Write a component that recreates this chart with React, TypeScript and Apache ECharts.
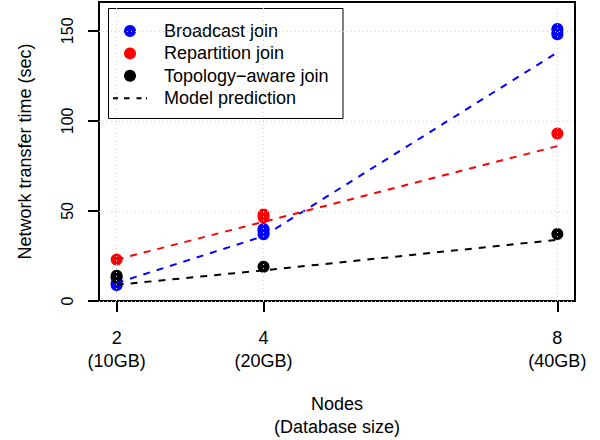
import React, { useEffect, useRef } from "react";
import * as echarts from "echarts";

const nodes = [2, 4, 8];
const dbSizes = ["10GB", "20GB", "40GB"];
const yTicks = [0, 50, 100, 150];

const broadcastObs = [[2, 8.8], [2, 9.8], [4, 37], [4, 39], [4, 40], [8, 148], [8, 149.5], [8, 151]];
const repartitionObs = [[2, 23], [4, 46.5], [4, 48], [8, 93]];
const topologyObs = [[2, 13], [2, 14], [4, 19], [8, 37.2]];

const broadcastModel = [10, 36, 138];
const repartitionModel = [23, 44, 86];
const topologyModel = [9, 17, 34];

const FONT = "Liberation Sans";
const YTICK_FS = 16;
const XTICK_FS = 18;
const TITLE_FS = 18;
const DASH = [7, 7];
const LEGEND_DASH_ICON = "path://M0 0h5v2h-5zM11 0h5.5v2h-5.5zM23.5 0h5v2h-5zM33 0h1v2h-1z";
const X_MIN = 1.76;
const X_MAX = 8.24;

export default function App() {
  const ref = useRef<HTMLDivElement>(null);
  useEffect(() => {
    const chart = echarts.init(ref.current!, null, { renderer: "svg" });
    const modelSeries = (name: string, color: string, vals: number[]) => ({
      name,
      type: "line",
      data: nodes.map((n, i) => [n, vals[i]]),
      symbol: "none",
      lineStyle: { color, width: 2, type: DASH },
      itemStyle: { color },
      z: 3,
    });
    const scatter = (name: string, color: string, data: number[][]) => ({
      name,
      type: "scatter",
      data,
      symbol: "circle",
      symbolSize: 12,
      itemStyle: { color, opacity: 1 },
      z: 2,
    });
    const xLabelStyle = {
      fontSize: XTICK_FS,
      fontFamily: FONT,
      color: "#000",
      verticalAlign: "middle",
    };
    chart.setOption({
      animation: false,
      grid: {
        left: 99,
        right: 25,
        top: 2,
        bottom: 139,
        containLabel: false,
        outerBoundsMode: "none",
        show: true,
        borderColor: "#000",
        borderWidth: 2,
        backgroundColor: "transparent",
      },
      xAxis: [
        {
          type: "value",
          min: X_MIN,
          max: X_MAX,
          position: "bottom",
          axisLine: { show: false },
          splitLine: { show: false },
          axisTick: {
            customValues: nodes,
            length: 11,
            lineStyle: { color: "#000", width: 2 },
          },
          axisLabel: {
            ...xLabelStyle,
            customValues: nodes,
            margin: 36.5,
          },
          name: "Nodes\n(Database size)",
          nameLocation: "middle",
          nameGap: 91,
          nameTextStyle: { fontSize: TITLE_FS, lineHeight: 23, fontFamily: FONT, color: "#000" },
        },
        {
          type: "value",
          min: X_MIN,
          max: X_MAX,
          position: "bottom",
          axisLine: { show: false },
          splitLine: { show: false },
          axisTick: { show: false },
          axisLabel: {
            ...xLabelStyle,
            customValues: nodes,
            formatter: (v: number) => `(${dbSizes[nodes.indexOf(v)]})`,
            margin: 59.5,
          },
        },
      ],
      yAxis: {
        type: "value",
        min: 0,
        max: 166,
        axisLine: { show: false },
        splitLine: { show: false },
        axisTick: {
          customValues: yTicks,
          length: 11,
          lineStyle: { color: "#000", width: 2 },
        },
        axisLabel: {
          customValues: yTicks,
          rotate: 90,
          align: "center",
          verticalAlign: "middle",
          fontSize: YTICK_FS,
          fontFamily: FONT,
          color: "#000",
          margin: 32,
        },
        name: "Network transfer time (sec)",
        nameLocation: "middle",
        nameGap: 65,
        nameTextStyle: { fontSize: TITLE_FS, fontFamily: FONT, color: "#000" },
      },
      legend: {
        orient: "vertical",
        left: 113,
        top: 19.8,
        padding: 0,
        itemWidth: 34,
        itemHeight: 12,
        itemGap: 0,
        textStyle: { fontSize: TITLE_FS, lineHeight: 22.4, fontFamily: FONT, color: "#000", padding: [0, 0, 0, 12] },
        data: [
          { name: "Broadcast join", icon: "circle" },
          { name: "Repartition join", icon: "circle" },
          { name: "Topology−aware join", icon: "circle" },
          { name: "Model prediction", icon: LEGEND_DASH_ICON },
        ],
        selectedMode: false,
        z: 5,
      },
      graphic: [
        {
          type: "rect",
          z: 4,
          shape: { x: 108.5, y: 8.5, width: 234.5, height: 110 },
          style: { fill: "#fff", stroke: "#000", lineWidth: 1 },
        },
      ],
      series: [
        {
          name: "grid",
          type: "line",
          data: [],
          z: 0,
          silent: true,
          markLine: {
            silent: true,
            symbol: ["none", "none"],
            label: { show: false },
            lineStyle: { color: "#D3D3D3", type: [1, 3], width: 1 },
            data: [...yTicks.map((v) => ({ yAxis: v })), ...nodes.map((v) => ({ xAxis: v }))],
          },
        },
        scatter("Broadcast join", "#0000FF", broadcastObs),
        scatter("Repartition join", "#FF0000", repartitionObs),
        scatter("Topology−aware join", "#000000", topologyObs),
        modelSeries("Broadcast model", "#0000FF", broadcastModel),
        modelSeries("Repartition model", "#FF0000", repartitionModel),
        modelSeries("Topology model", "#000000", topologyModel),
        {
          name: "Model prediction",
          type: "line",
          data: [],
          symbol: "none",
          lineStyle: { color: "#000", width: 2, type: DASH },
          itemStyle: { color: "#000" },
        },
      ],
    });
    return () => chart.dispose();
  }, []);
  return (
    <div
      ref={ref}
      style={{ position: "fixed", left: 0, top: 0, width: 600, height: 440, background: "#fff" }}
    />
  );
}
